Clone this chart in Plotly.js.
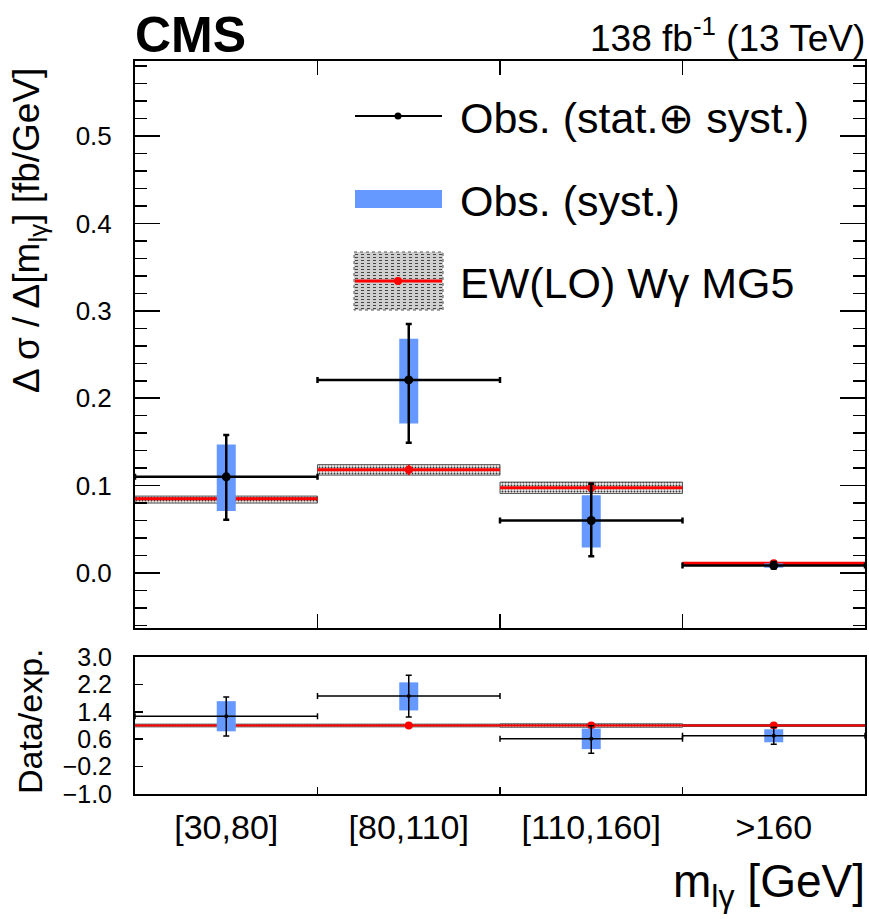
<!DOCTYPE html>
<html>
<head>
<meta charset="utf-8">
<script src="https://cdn.plot.ly/plotly-3.0.1.min.js"></script>
<style>html,body{margin:0;padding:0;background:#fff;}#plot{width:869px;height:919px;}</style>
</head>
<body>
<div id="plot"></div>
<script>
// ---- data ----
const bins = ['[30,80]', '[80,110]', '[110,160]', '>160'];
const binCenters = [0.5, 1.5, 2.5, 3.5];
const binHalfWidth = [0.5, 0.5, 0.5, 0.5];

// main panel: d sigma / d m_lgamma [fb/GeV]
const obs      = [0.110, 0.221, 0.060, 0.0084];
const obsTotUp = [0.158, 0.285, 0.102, 0.0125];
const obsTotDn = [0.061, 0.149, 0.019, 0.0050];
const obsSysUp = [0.147, 0.268, 0.089, 0.0110];
const obsSysDn = [0.071, 0.171, 0.029, 0.0060];
const ew       = [0.085, 0.118, 0.0976, 0.011];
const ewUp     = [0.088, 0.124, 0.104, 0.012];
const ewDn     = [0.080, 0.112, 0.091, 0.010];

// ratio panel: data / expectation
const ratio      = [1.27, 1.86, 0.61, 0.70];
const ratioTotUp = [1.83, 2.47, 0.99, 0.95];
const ratioTotDn = [0.69, 1.25, 0.19, 0.45];
const ratioSysUp = [1.71, 2.26, 0.91, 0.89];
const ratioSysDn = [0.83, 1.44, 0.31, 0.51];
const ewRatio    = [1.0, 1.0, 1.0, 1.0];
const ewRatioUp  = [1.04, 1.04, 1.05, 1.03];
const ewRatioDn  = [0.96, 0.96, 0.95, 0.97];

const yTicksRatio = [-1.0, -0.2, 0.6, 1.4, 2.2, 3.0];

// ---- helpers ----
const W = 869, H = 919;
const px = x => x / W;
const py = y => 1 - y / H;
const diff = (a, b) => a.map((v, i) => v - b[i]);
const FONT = 'Liberation Sans, Arial, sans-serif';
const BLUE = '#6699ff';

function bandTrace(up, dn, xa, ya) {
  return {
    type: 'bar', x: binCenters, base: dn, y: diff(up, dn), width: 1,
    xaxis: xa, yaxis: ya, showlegend: false, hoverinfo: 'skip',
    marker: {color: '#ececec', line: {color: '#555', width: 1},
      pattern: {shape: '.', fgcolor: '#333', bgcolor: '#ececec', size: 3, solidity: 0.3}}
  };
}
function ewTrace(v, up, dn, xa, ya, msize, th) {
  return {
    type: 'scatter', mode: 'markers', x: binCenters, y: v, xaxis: xa, yaxis: ya,
    showlegend: false, hoverinfo: 'skip',
    marker: {color: '#ff0000', size: msize},
    error_x: {type: 'data', array: binHalfWidth, color: '#ff0000', thickness: th, width: 0},
    error_y: {type: 'data', symmetric: false, array: diff(up, v), arrayminus: diff(v, dn),
      color: '#ff0000', thickness: 2, width: 0}
  };
}
function systTrace(v, up, dn, xa, ya) {
  return {
    type: 'scatter', mode: 'markers', x: binCenters, y: v, xaxis: xa, yaxis: ya,
    showlegend: false, hoverinfo: 'skip',
    marker: {color: BLUE, size: 1, opacity: 0},
    error_y: {type: 'data', symmetric: false, array: diff(up, v), arrayminus: diff(v, dn),
      color: BLUE, thickness: 19, width: 0}
  };
}
function obsTrace(v, up, dn, xa, ya, msize, th) {
  return {
    type: 'scatter', mode: 'markers', x: binCenters, y: v, xaxis: xa, yaxis: ya,
    showlegend: false, hoverinfo: 'skip',
    marker: {color: '#000', size: msize},
    error_x: {type: 'data', array: binHalfWidth, color: '#000', thickness: th, width: 3},
    error_y: {type: 'data', symmetric: false, array: diff(up, v), arrayminus: diff(v, dn),
      color: '#000', thickness: th, width: 3}
  };
}

const data = [
  bandTrace(ewUp, ewDn, 'x', 'y'),
  ewTrace(ew, ewUp, ewDn, 'x', 'y', 8, 3),
  systTrace(obs, obsSysUp, obsSysDn, 'x', 'y'),
  obsTrace(obs, obsTotUp, obsTotDn, 'x', 'y', 9, 2.5),
  bandTrace(ewRatioUp, ewRatioDn, 'x2', 'y2'),
  ewTrace(ewRatio, ewRatio, ewRatio, 'x2', 'y2', 8, 2),
  systTrace(ratio, ratioSysUp, ratioSysDn, 'x2', 'y2'),
  obsTrace(ratio, ratioTotUp, ratioTotDn, 'x2', 'y2', 4, 1.5)
];

const xDomain = [px(135), px(865)];
const axisCommon = {showline: true, linecolor: '#000', linewidth: 2, showgrid: false, zeroline: false,
  tickcolor: '#000', tickwidth: 1.5, fixedrange: true};

// legend (drawn in paper coordinates)
const shapes = [
  {type: 'line', xref: 'paper', yref: 'paper', x0: px(355), x1: px(442), y0: py(116), y1: py(116), line: {color: '#000', width: 2}},
  {type: 'circle', xref: 'paper', yref: 'paper', x0: px(394.5), x1: px(401.5), y0: py(112.5), y1: py(119.5), fillcolor: '#000', line: {width: 0}},
  {type: 'rect', xref: 'paper', yref: 'paper', x0: px(355), x1: px(442), y0: py(190), y1: py(208), fillcolor: BLUE, line: {width: 0}},
  {type: 'rect', xref: 'paper', yref: 'paper', x0: px(354), x1: px(443), y0: py(252), y1: py(310), fillcolor: '#cfcfcf', line: {color: '#555', width: 1, dash: 'dot'}}
];
// dotted texture of the hatched legend box
for (let yy = 254.5; yy < 309; yy += 3) {
  shapes.push({type: 'line', xref: 'paper', yref: 'paper', x0: px(355), x1: px(442), y0: py(yy), y1: py(yy),
    line: {color: '#444', width: 1, dash: 'dot'}});
}
shapes.push(
  {type: 'line', xref: 'paper', yref: 'paper', x0: px(355), x1: px(442), y0: py(281), y1: py(281), line: {color: '#ff0000', width: 3}},
  {type: 'circle', xref: 'paper', yref: 'paper', x0: px(394), x1: px(402), y0: py(277), y1: py(285), fillcolor: '#ff0000', line: {width: 0}}
);

const annotations = [
  {xref: 'paper', yref: 'paper', x: px(133), y: py(35), xanchor: 'left', yanchor: 'middle', showarrow: false,
   text: '<b>CMS</b>', font: {family: FONT, size: 50, color: '#000'}},
  {xref: 'paper', yref: 'paper', x: px(867), y: py(36), xanchor: 'right', yanchor: 'middle', showarrow: false,
   text: '138 fb<sup>-1</sup> (13 TeV)', font: {family: FONT, size: 37, color: '#000'}},
  {xref: 'paper', yref: 'paper', x: px(458), y: py(118), xanchor: 'left', yanchor: 'middle', showarrow: false,
   text: 'Obs. (stat.⊕ syst.)', font: {family: FONT, size: 43, color: '#000'}},
  {xref: 'paper', yref: 'paper', x: px(458), y: py(201), xanchor: 'left', yanchor: 'middle', showarrow: false,
   text: 'Obs. (syst.)', font: {family: FONT, size: 43, color: '#000'}},
  {xref: 'paper', yref: 'paper', x: px(458), y: py(283), xanchor: 'left', yanchor: 'middle', showarrow: false,
   text: 'EW(LO) Wγ MG5', font: {family: FONT, size: 43, color: '#000'}},
  {xref: 'paper', yref: 'paper', x: px(29), y: py(231), xanchor: 'center', yanchor: 'middle', showarrow: false, textangle: -90,
   text: 'Δ σ / Δ[m<sub>lγ</sub>] [fb/GeV]', font: {family: FONT, size: 37, color: '#000'}},
  {xref: 'paper', yref: 'paper', x: px(30), y: py(721), xanchor: 'center', yanchor: 'middle', showarrow: false, textangle: -90,
   text: 'Data/exp.', font: {family: FONT, size: 34, color: '#000'}},
  {xref: 'paper', yref: 'paper', x: px(867), y: py(884), xanchor: 'right', yanchor: 'middle', showarrow: false,
   text: 'm<sub>lγ</sub> [GeV]', font: {family: FONT, size: 46, color: '#000'}}
];

const layout = {
  width: W, height: H,
  margin: {l: 0, r: 0, t: 0, b: 0, autoexpand: false},
  paper_bgcolor: '#fff', plot_bgcolor: '#fff',
  showlegend: false, barmode: 'overlay',
  font: {family: FONT, color: '#000'},
  xaxis: Object.assign({}, axisCommon, {
    domain: xDomain, anchor: 'y', range: [0, 4],
    tickmode: 'array', tickvals: [1, 2, 3], ticktext: ['', '', ''],
    ticks: 'inside', ticklen: 14, mirror: 'allticks'
  }),
  yaxis: Object.assign({}, axisCommon, {
    domain: [py(628), py(61)], anchor: 'x', range: [-0.063, 0.586],
    tickmode: 'linear', tick0: 0, dtick: 0.1, tickformat: '.1f',
    ticks: 'inside', ticklen: 25, mirror: 'allticks', ticklabelstandoff: 16,
    tickfont: {family: FONT, size: 26},
    minor: {tickmode: 'linear', tick0: 0, dtick: 0.02, ticks: 'inside', ticklen: 12, tickcolor: '#000', tickwidth: 1.5}
  }),
  xaxis2: Object.assign({}, axisCommon, {
    domain: xDomain, anchor: 'y2', range: [0, 4],
    tickmode: 'array', tickvals: binCenters, ticktext: bins, ticks: '',
    tickfont: {family: FONT, size: 34}, mirror: true, ticklabelstandoff: 2,
    minor: {tickmode: 'array', tickvals: [1, 2, 3], ticks: 'inside', ticklen: 7, tickcolor: '#000', tickwidth: 1.5}
  }),
  yaxis2: Object.assign({}, axisCommon, {
    domain: [py(794), py(657)], anchor: 'x2', range: [-1, 3],
    tickmode: 'array', tickvals: yTicksRatio, tickformat: '.1f',
    ticks: 'inside', ticklen: 8, mirror: true, ticklabelstandoff: 16,
    tickfont: {family: FONT, size: 25}
  }),
  shapes: shapes,
  annotations: annotations
};

Plotly.newPlot('plot', data, layout, {staticPlot: true, displayModeBar: false});
</script>
</body>
</html>
